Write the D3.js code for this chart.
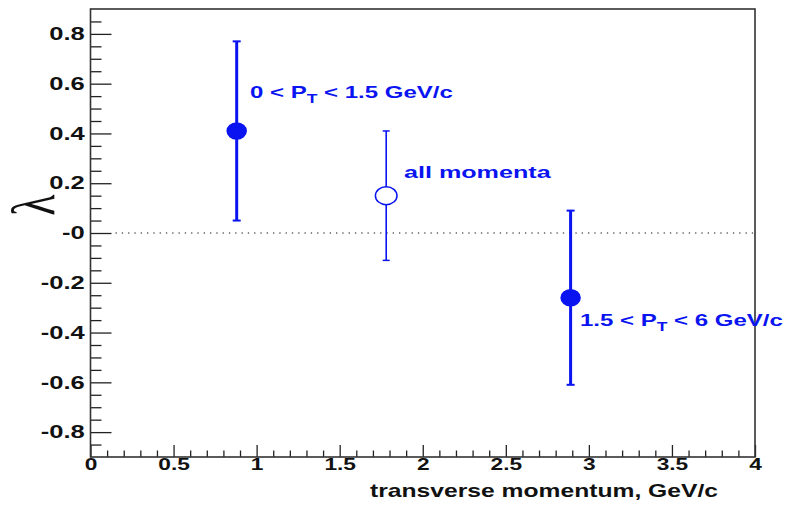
<!DOCTYPE html>
<html>
<head>
<meta charset="utf-8">
<script src="https://cdn.jsdelivr.net/npm/d3@7"></script>
<style>
  html, body { margin: 0; padding: 0; background: #fff; }
  svg { display: block; }
  text { font-family: "Liberation Sans", Arial, sans-serif; font-weight: bold; }
</style>
</head>
<body>
<svg id="chart" width="790" height="506"></svg>
<script>
// Polarization parameter lambda versus transverse momentum
const ptValues     = [0.88, 1.78, 2.89];
const lambdaValues = [0.41, 0.15, -0.26];
const lambdaErrors = [0.36, 0.26, 0.35];
const markerFilled = [true, false, true];
const pointLabels  = [
  ["0 < P", "T", " < 1.5 GeV/c"],
  ["all momenta"],
  ["1.5 < P", "T", " < 6 GeV/c"]
];

const xTickValues = [0, 0.5, 1, 1.5, 2, 2.5, 3, 3.5, 4];
const xTickLabels = ["0", "0.5", "1", "1.5", "2", "2.5", "3", "3.5", "4"];
const yTickValues = [-0.8, -0.6, -0.4, -0.2, 0, 0.2, 0.4, 0.6, 0.8];
const yTickLabels = ["-0.8", "-0.6", "-0.4", "-0.2", "-0", "0.2", "0.4", "0.6", "0.8"];

const xTitle = "transverse momentum, GeV/c";
const yTitle = "\u03bb";

const BLUE = "#0a14f0";
const SX = 1.42; // horizontal glyph stretch

const svg = d3.select("#chart");
const x = d3.scaleLinear().domain([0, 4]).range([90.5, 755]);
const y = d3.scaleLinear().domain([-0.9, 0.9]).range([457, 9]);

// minor ticks
const xMinor = d3.range(0, 4.0001, 0.1).filter(v => Math.abs(v * 2 - Math.round(v * 2)) > 1e-6);
const yMinor = d3.range(-0.85, 0.8501, 0.05).filter(v => Math.abs(v * 5 - Math.round(v * 5)) > 1e-6);

// X axis: major + minor ticks pointing into the frame
const xAxisMinor = svg.append("g").attr("transform", `translate(0,${y(-0.9)})`)
  .call(d3.axisBottom(x).tickValues(xMinor).tickSizeInner(-6.5).tickSizeOuter(0).tickFormat(""));
const xAxis = svg.append("g").attr("transform", `translate(0,${y(-0.9)})`)
  .call(d3.axisBottom(x).tickValues(xTickValues).tickSizeInner(-12).tickSizeOuter(0)
    .tickPadding(2).tickFormat((d, i) => xTickLabels[i]));

// Y axis
const yAxisMinor = svg.append("g").attr("transform", `translate(${x(0)},0)`)
  .call(d3.axisLeft(y).tickValues(yMinor).tickSizeInner(-11).tickSizeOuter(0).tickFormat(""));
const yAxis = svg.append("g").attr("transform", `translate(${x(0)},0)`)
  .call(d3.axisLeft(y).tickValues(yTickValues).tickSizeInner(-21).tickSizeOuter(0)
    .tickPadding(4).tickFormat((d, i) => yTickLabels[i]));

[xAxisMinor, xAxis, yAxisMinor, yAxis].forEach(g => {
  g.select(".domain").remove();
  g.selectAll(".tick line").attr("stroke", "#222").attr("stroke-width", 1.3);
});

xAxis.selectAll(".tick text")
  .attr("fill", "#111").style("font-size", "16px")
  .attr("transform", `scale(${SX},1)`);
yAxis.selectAll(".tick text")
  .attr("fill", "#111").style("font-size", "18px")
  .attr("transform", `scale(${SX},1)`);

// frame
svg.append("rect")
  .attr("x", x(0)).attr("y", y(0.9))
  .attr("width", x(4) - x(0)).attr("height", y(-0.9) - y(0.9))
  .attr("fill", "none").attr("stroke", "#333").attr("stroke-width", 1.6);

// zero reference line, starting just past the major tick
svg.append("line")
  .attr("x1", x(0) + 25).attr("x2", x(4))
  .attr("y1", y(0)).attr("y2", y(0))
  .attr("stroke", "#111").attr("stroke-width", 1.2)
  .attr("stroke-dasharray", "1.3,5");

// axis titles
svg.append("text")
  .attr("transform", `translate(718,497) scale(1.37,1)`)
  .attr("text-anchor", "end")
  .style("font-size", "18px").attr("fill", "#111")
  .text(xTitle);

svg.append("text")
  .attr("transform", `translate(34,205) scale(1.4,1) rotate(-90)`)
  .attr("text-anchor", "middle").attr("dy", "0.33em")
  .style("font-family", "'Liberation Serif', 'DejaVu Serif', serif")
  .style("font-weight", "normal")
  .style("font-size", "44px").attr("fill", "#111")
  .text(yTitle);

// data points
const pts = ptValues.map((v, i) => ({
  pt: v, lam: lambdaValues[i], err: lambdaErrors[i], filled: markerFilled[i], label: pointLabels[i]
}));

const pg = svg.append("g").selectAll("g").data(pts).join("g");

pg.append("line")
  .attr("x1", d => x(d.pt)).attr("x2", d => x(d.pt))
  .attr("y1", d => y(d.lam + d.err)).attr("y2", d => y(d.lam - d.err))
  .attr("stroke", BLUE).attr("stroke-width", d => d.filled ? 3 : 1.6);

[1, -1].forEach(s => {
  pg.append("line")
    .attr("x1", d => x(d.pt) - (d.filled ? 4 : 3.5)).attr("x2", d => x(d.pt) + (d.filled ? 4 : 3.5))
    .attr("y1", d => y(d.lam + s * d.err)).attr("y2", d => y(d.lam + s * d.err))
    .attr("stroke", BLUE).attr("stroke-width", d => d.filled ? 2 : 1.5);
});

pg.append("ellipse")
  .attr("cx", d => x(d.pt)).attr("cy", d => y(d.lam))
  .attr("rx", d => d.filled ? 9.5 : 10.8).attr("ry", d => d.filled ? 8 : 9)
  .attr("fill", d => d.filled ? BLUE : "#fff")
  .attr("stroke", BLUE).attr("stroke-width", 1.5);

// point annotations: left edge, baseline and drawn width
const labelBoxes = [
  { x: 250, y: 98, w: 203 },
  { x: 404, y: 178, w: 148 },
  { x: 580, y: 326, w: 203 }
];

pts.forEach((d, i) => {
  const b = labelBoxes[i];
  const t = svg.append("text")
    .attr("x", 0).attr("y", 0)
    .style("font-size", "16.5px").attr("fill", BLUE);
  d.label.forEach((part, j) => {
    const ts = t.append("tspan").text(part);
    if (d.label.length === 3 && j === 1) ts.attr("dy", 5).style("font-size", "12px");
    if (d.label.length === 3 && j === 2) ts.attr("dy", -5);
  });
  const w = t.node().getBBox().width;
  t.attr("transform", `translate(${b.x},${b.y}) scale(${b.w / w},1)`);
});
</script>
</body>
</html>
